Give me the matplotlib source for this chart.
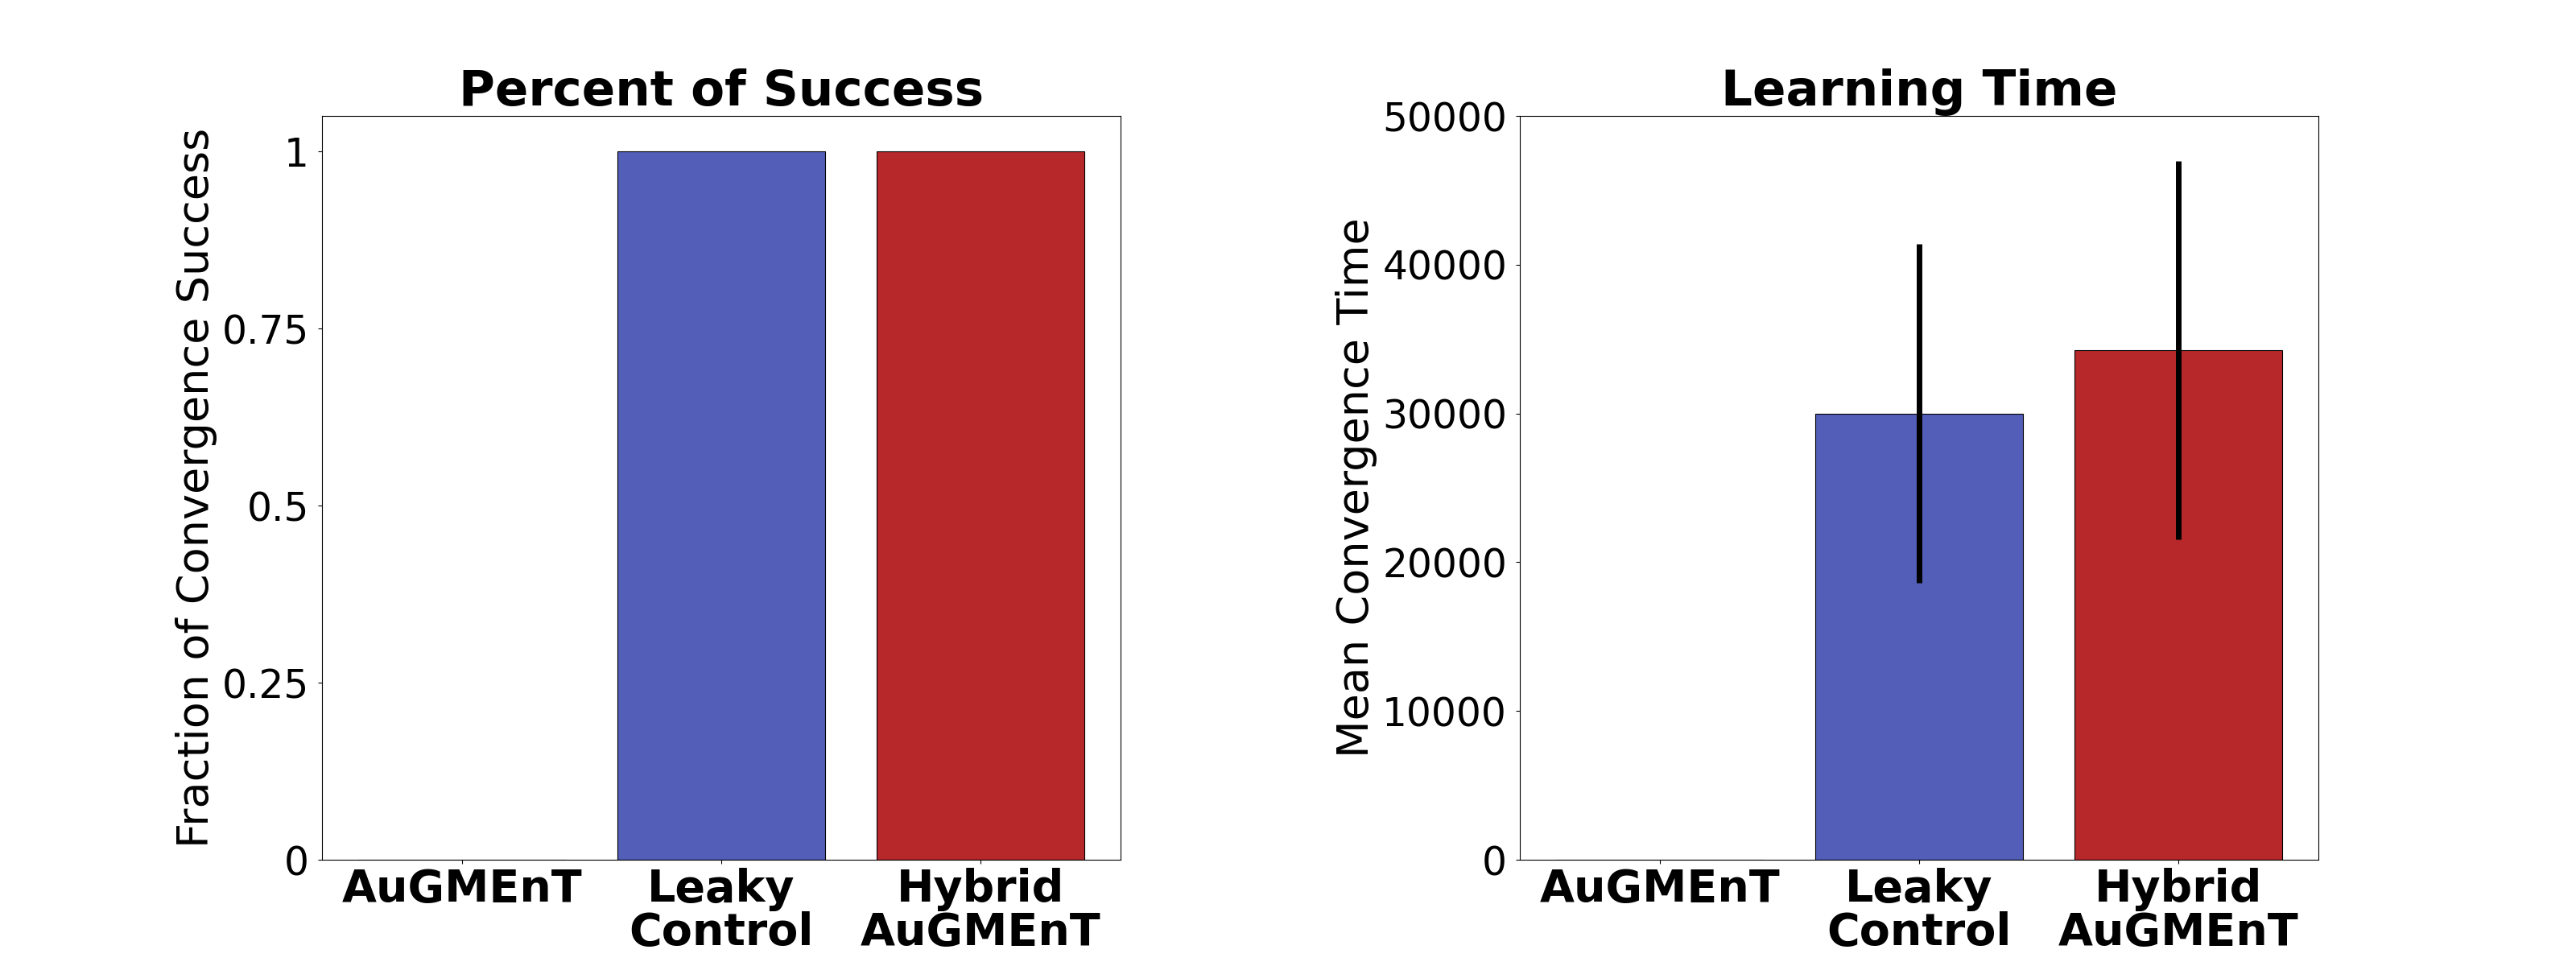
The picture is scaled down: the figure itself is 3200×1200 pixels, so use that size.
import matplotlib
matplotlib.use("Agg")
import matplotlib.pyplot as plt
import numpy as np

categories = ["AuGMEnT", "Leaky\nControl", "Hybrid\nAuGMEnT"]
success_fraction = [0.0, 1.0, 1.0]
mean_time = [0.0, 30000, 34250]
time_err = [0.0, 11400, 12700]
bar_colors = ["#8C8C8C", "#525EB8", "#B7282A"]
left_yticks = [0, 0.25, 0.5, 0.75, 1]
left_yticklabels = ["0", "0.25", "0.5", "0.75", "1"]
right_yticks = [0, 10000, 20000, 30000, 40000, 50000]

fig, (ax1, ax2) = plt.subplots(1, 2, figsize=(32, 12), dpi=100)
fig.subplots_adjust(left=0.125, right=0.9, bottom=0.11, top=0.88, wspace=0.5)

x = np.arange(len(categories))

ax1.bar(x, success_fraction, width=0.8, color=bar_colors, edgecolor="black", linewidth=0.8)
ax1.set_title("Percent of Success", fontsize=44, fontweight="bold")
ax1.set_ylabel("Fraction of Convergence Success", fontsize=39)
ax1.set_yticks(left_yticks)
ax1.set_yticklabels(left_yticklabels)

ax2.bar(x, mean_time, width=0.8, color=bar_colors, edgecolor="black", linewidth=0.8,
        yerr=time_err, error_kw=dict(ecolor="black", elinewidth=5, capsize=0))
ax2.set_title("Learning Time", fontsize=44, fontweight="bold")
ax2.set_ylabel("Mean Convergence Time", fontsize=39)
ax2.set_ylim(0, 50000)
ax2.set_yticks(right_yticks)

for ax in (ax1, ax2):
    ax.set_xticks(x)
    ax.set_xticklabels(categories, fontsize=40, fontweight="bold", linespacing=1.0)
    ax.tick_params(axis="y", labelsize=35, pad=8)

fig.savefig("out.png", dpi=100)
